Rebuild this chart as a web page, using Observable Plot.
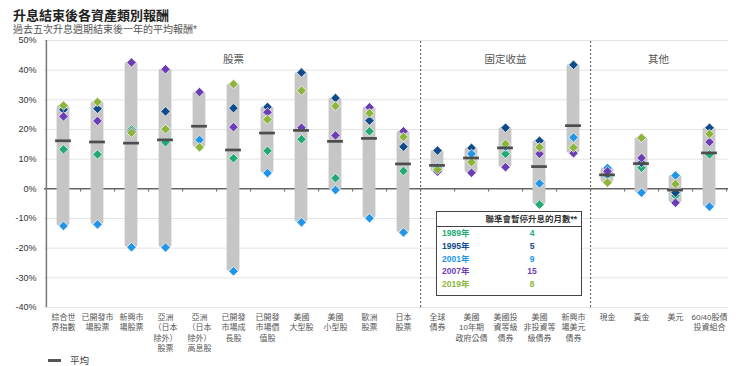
<!DOCTYPE html>
<html>
<head>
<meta charset="utf-8">
<script src="https://cdn.jsdelivr.net/npm/d3@7"></script>
<script src="https://cdn.jsdelivr.net/npm/@observablehq/plot@0.6"></script>
<style>
  html, body { margin: 0; padding: 0; background: #fff; overflow: hidden; }
  body { width: 740px; height: 366px; position: relative; font-family: "Liberation Sans", "Noto Sans CJK TC", sans-serif; }
  #title { position: absolute; left: 13px; top: 5px; font-size: 13px; font-weight: bold; color: #222; }
  #subtitle { position: absolute; left: 13px; top: 21px; font-size: 10px; color: #555; }
  #chart { position: absolute; left: 0; top: 30px; }
  #chart svg { overflow: visible; }
  #legend { position: absolute; left: 48px; top: 353px; font-size: 9.5px; color: #444; display: flex; align-items: center; }
  #legend .sw { width: 13px; height: 3px; background: #555; margin-right: 9px; }
  #pausebox { position: absolute; left: 436px; top: 211px; width: 144px; height: 83px; border: 1px solid #444; background: #fff; font-size: 8.5px; font-weight: bold; }
  #pausebox .hd { height: 14px; line-height: 14px; border-bottom: 1px solid #444; text-align: right; padding-right: 4px; color: #333; }
  #pausebox .row { position: relative; height: 12.8px; line-height: 12.8px; }
  #pausebox .yr { position: absolute; left: 5px; }
  #pausebox .n { position: absolute; left: 85px; width: 20px; text-align: center; }
</style>
</head>
<body>
<div id="title">升息結束後各資產類別報酬</div>
<div id="subtitle">過去五次升息週期結束後一年的平均報酬*</div>
<div id="chart"></div>
<div id="pausebox"></div>
<div id="legend"><div class="sw"></div><span>平均</span></div>
<script>
const categories = ["綜合世界指數","已開發市場股票","新興市場股票","亞洲(日本除外)股票","亞洲(日本除外)高息股","已開發市場成長股","已開發市場價值股","美國大型股","美國小型股","歐洲股票","日本股票","全球債券","美國10年期政府公債","美國投資等級債券","美國非投資等級債券","新興市場美元債券","現金","黃金","美元","60/40股債投資組合"];
const tickLabels = ["綜合世\n界指數","已開發市\n場股票","新興市\n場股票","亞洲\n（日本\n除外）\n股票","亞洲\n（日本\n除外）\n高息股","已開發\n市場成\n長股","已開發\n市場價\n值股","美國\n大型股","美國\n小型股","歐洲\n股票","日本\n股票","全球\n債券","美國\n10年期\n政府公債","美國投\n資等級\n債券","美國\n非投資等\n級債券","新興市\n場美元\n債券","現金","黃金","美元","60/40股債\n投資組合"];

const r1989 = [13.3, 11.6, 20.0, 15.7, null, 10.3, 12.8, 16.7, 3.6, 19.4, 6.0, 6.8, 11.5, 11.8, -5.3, null, 4.5, 7.1, -2.3, 11.6];
const r1995 = [26.7, 27.0, 19.3, 26.1, null, 27.2, 27.6, 39.2, 30.6, 23.0, 14.2, 12.9, 13.8, 20.6, 16.2, 41.8, 5.0, 8.8, -1.3, 20.6];
const r2001 = [-12.5, -12.0, -19.7, -19.8, 16.5, -27.8, 5.3, -11.3, -0.4, -9.9, -14.7, 7.3, 11.8, 14.2, 1.8, 17.3, 7.0, -1.3, 4.5, -6.0];
const r2007 = [24.4, 22.9, 42.6, 40.3, 32.6, 20.8, 25.8, 20.6, 18.0, 27.5, 19.4, 5.8, 5.4, 7.3, 11.8, 12.0, 5.9, 10.4, -4.7, 15.8];
const r2019 = [28.1, 29.3, 18.9, 20.1, 14.0, 35.3, 23.4, 33.1, 27.9, 25.5, 17.5, 6.5, 9.0, 15.1, 14.0, 13.9, 2.1, 17.2, 1.6, 18.5];
const average = [16.2, 15.8, 15.4, 16.5, 21.1, 13.1, 18.8, 19.7, 16.0, 17.0, 8.4, 7.9, 10.4, 13.8, 7.5, 21.3, 4.7, 8.5, -0.4, 12.1];

const years = ["1989年","1995年","2001年","2007年","2019年"];
const pauseMonths = [4, 5, 9, 15, 8];
const yearColors = ["#23a974","#0f4a8a","#2196e8","#6c3eb6","#8db53c"];

const yTicks = [-40,-30,-20,-10,0,10,20,30,40,50];
const groupsCentered = ["股票","固定收益"];
const groupsCenteredAt = ["已開發市場成長股","美國投資等級債券"];
const groupsBetween = ["其他"];
const groupsBetweenAt = ["黃金"];
const separatorsAfter = ["日本股票","新興市場美元債券"];

const series = [r1989, r1995, r2001, r2007, r2019];
const points = [];
series.forEach((arr, s) => arr.forEach((v, i) => { if (v != null) points.push({cat: categories[i], year: years[s], value: v}); }));
const ranges = categories.map((c, i) => {
  const vals = series.map(a => a[i]).filter(v => v != null);
  return {cat: c, lo: d3.min(vals), hi: d3.max(vals)};
});
const means = categories.map((c, i) => ({cat: c, value: average[i]}));
const labelOf = new Map(categories.map((c, i) => [c, tickLabels[i]]));

const W = 740, ML = 44, MR = 12;
const bw = (W - ML - MR) / categories.length;

const font = "Liberation Sans, Noto Sans CJK TC, sans-serif";
const plot = Plot.plot({
  width: W, height: 336,
  marginLeft: ML, marginRight: MR, marginTop: 10, marginBottom: 59,
  style: {fontFamily: font, background: "transparent", overflow: "visible"},
  x: {type: "band", domain: categories, padding: 0, axis: null},
  y: {domain: [-40, 50], axis: null},
  marks: [
    Plot.ruleY(yTicks.filter(d => d !== 0), {y: d => d, stroke: "#e4e4e4", strokeWidth: 1}),
    Plot.ruleX(separatorsAfter, {x: d => d, dx: bw / 2, y1: -40, y2: 50, stroke: "#555", strokeDasharray: "2,2", strokeWidth: 1}),
    Plot.ruleY([0], {stroke: "#666", strokeWidth: 1.5}),
    Plot.ruleX(categories, {x: d => d, dx: bw / 2, y1: 0, y2: -1.1, stroke: "#666", strokeWidth: 1}),
    Plot.ruleX([categories[0]], {x: d => d, dx: -bw / 2, y1: -40, y2: 50, stroke: "#777", strokeWidth: 1.5}),
    Plot.axisY({ticks: yTicks, tickFormat: d => d + "%", tickSize: 0, tickPadding: 8, fontSize: 9, fill: "#333", label: null}),
    Plot.axisX({tickSize: 0, tickPadding: 5, tickFormat: d => labelOf.get(d), fontSize: 8, lineHeight: 1.3, fill: "#555", label: null}),
    Plot.barY(ranges, {x: "cat", y1: "lo", y2: "hi", fill: "#c6c6c6", insetLeft: (bw - 13) / 2, insetRight: (bw - 13) / 2, rx: 2}),
    Plot.dot(points, {x: "cat", y: "value", symbol: "diamond2", r: 4.3, fill: d => yearColors[years.indexOf(d.year)], stroke: "#fff", strokeWidth: 0.7}),
    Plot.tickY(means, {x: "cat", y: "value", stroke: "#4d4d4d", strokeWidth: 2.7, insetLeft: (bw - 16) / 2, insetRight: (bw - 16) / 2}),
    Plot.text(groupsCentered, {x: (d, i) => groupsCenteredAt[i], y: 43.5, text: d => d, fontSize: 10.5, fill: "#555"}),
    Plot.text(groupsBetween, {x: (d, i) => groupsBetweenAt[i], y: 43.5, dx: bw / 2, text: d => d, fontSize: 10.5, fill: "#555"})
  ]
});
document.getElementById("chart").appendChild(plot);

const box = document.getElementById("pausebox");
let html = '<div class="hd">聯準會暫停升息的月數**</div>';
years.forEach((y, i) => {
  html += `<div class="row" style="color:${yearColors[i]}"><span class="yr">${y}</span><span class="n">${pauseMonths[i]}</span></div>`;
});
box.innerHTML = html;
</script>
</body>
</html>
